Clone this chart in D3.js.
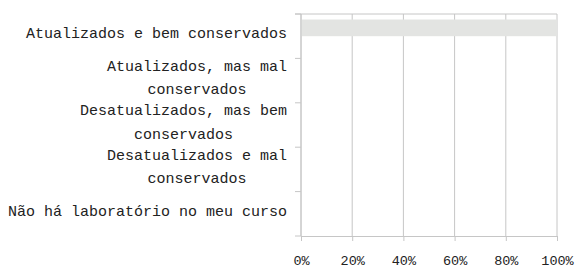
<!DOCTYPE html>
<html>
<head>
<meta charset="utf-8">
<script src="https://cdn.jsdelivr.net/npm/d3@7"></script>
<style>
  body { margin: 0; background: #fff; }
  text { font-family: "Liberation Mono", monospace; fill: #222; }
</style>
</head>
<body>
<div id="chart"></div>
<script>
// categories, each one split into display lines (Excel wraps them)
const categories = [
  ['Atualizados e bem conservados'],
  ['Atualizados, mas mal', 'conservados'],
  ['Desatualizados, mas bem', 'conservados'],
  ['Desatualizados e mal', 'conservados'],
  ['Não há laboratório no meu curso']
];
const seriesNames = ['Série 1', 'Série 2'];
const serie1 = [100, 0, 0, 0, 0];
const serie2 = [0, 0, 0, 0, 0];
const xTicks = [0, 20, 40, 60, 80, 100];

const W = 575, H = 268;
const margin = {top: 14, right: 18, bottom: 32, left: 301};

var svg = d3.select('#chart').append('svg')
  .attr('width', W).attr('height', H);

var catKeys = categories.map(d => d.join(' '));

var x = d3.scaleLinear().domain([0, 100]).range([margin.left, W - margin.right]);
var y = d3.scaleBand().domain(catKeys).range([margin.top, H - margin.bottom]).padding(0);
var ySub = d3.scaleBand().domain(seriesNames).range([0, y.bandwidth()]).paddingOuter(0.33).paddingInner(0);

var grey = '#c6c6c6';

// vertical gridlines
svg.append('g')
  .selectAll('line')
  .data(xTicks)
  .enter()
  .append('line')
  .attr('x1', d => x(d)).attr('x2', d => x(d))
  .attr('y1', margin.top).attr('y2', H - margin.bottom)
  .attr('stroke', grey).attr('stroke-width', 1);

// top border
svg.append('line')
  .attr('x1', margin.left - 6).attr('x2', x(100))
  .attr('y1', margin.top).attr('y2', margin.top)
  .attr('stroke', grey);

// bars
var rows = catKeys.map((k, i) => ({key: k, values: [serie1[i], serie2[i]]}));
var gRows = svg.append('g').selectAll('g')
  .data(rows).enter().append('g')
  .attr('transform', d => `translate(0,${y(d.key)})`);
gRows.selectAll('rect')
  .data(d => d.values.map((v, j) => ({s: seriesNames[j], v: v})))
  .enter().append('rect')
  .attr('x', x(0))
  .attr('y', d => ySub(d.s))
  .attr('width', d => x(d.v) - x(0))
  .attr('height', ySub.bandwidth())
  .attr('fill', '#e3e4e2');

// x axis
var xAxis = svg.append('g')
  .attr('transform', `translate(0,${H - margin.bottom})`)
  .call(d3.axisBottom(x).tickValues(xTicks).tickFormat(d => d + '%').tickSize(5).tickSizeOuter(0));
xAxis.select('.domain').attr('stroke', grey);
xAxis.selectAll('.tick line').attr('stroke', grey);
xAxis.selectAll('.tick text')
  .attr('y', 19)
  .style('font-family', '"Liberation Mono", monospace')
  .style('font-size', '13.5px')
  .attr('fill', '#222');

// y axis: line + ticks at band boundaries
svg.append('line')
  .attr('x1', margin.left).attr('x2', margin.left)
  .attr('y1', margin.top).attr('y2', H - margin.bottom)
  .attr('stroke', grey);
var bounds = catKeys.map(k => y(k)).concat([y(catKeys[catKeys.length - 1]) + y.bandwidth()]);
svg.append('g').selectAll('line')
  .data(bounds).enter().append('line')
  .attr('x1', margin.left - 6).attr('x2', margin.left)
  .attr('y1', d => d).attr('y2', d => d)
  .attr('stroke', grey);

// category labels, wrapped lines centred on each other, block right aligned
var lineH = 23.5;
var labelRight = 287;
var charW = 9.0;
categories.forEach((lines, i) => {
  var cy = y(catKeys[i]) + y.bandwidth() / 2 - 3;
  var maxLen = d3.max(lines, l => l.length) * charW;
  var cx = labelRight - maxLen / 2;
  var t = svg.append('text')
    .attr('text-anchor', 'middle')
    .style('font-size', '15px');
  lines.forEach((l, j) => {
    t.append('tspan')
      .attr('x', cx)
      .attr('y', cy + (j - (lines.length - 1) / 2) * lineH + 5)
      .text(l);
  });
});
</script>
</body>
</html>
